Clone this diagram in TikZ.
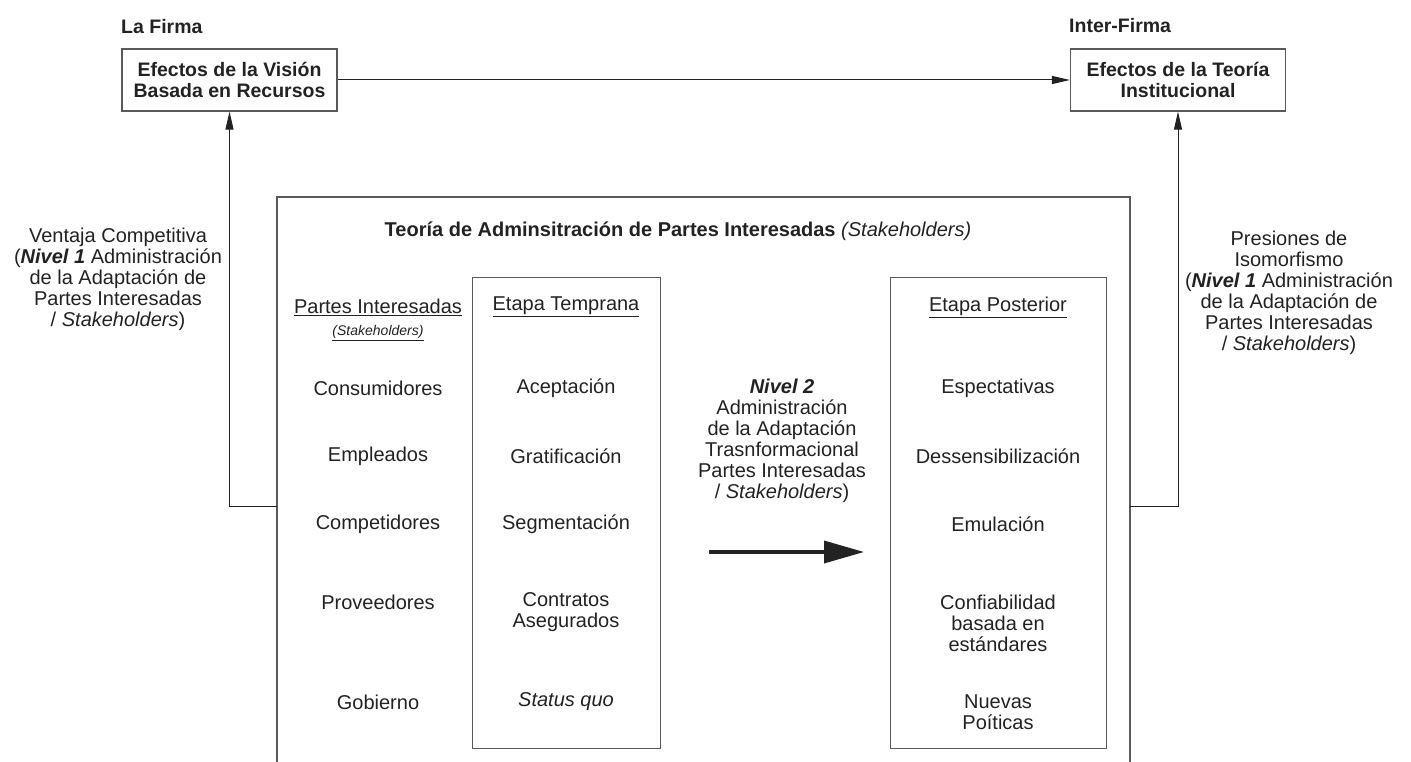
\documentclass[tikz,border=0pt]{standalone}
\usepackage{fontspec}
\setmainfont{Liberation Sans}
\usetikzlibrary{arrows.meta}
\definecolor{ink}{HTML}{222222}
\definecolor{edge}{HTML}{5A5A5A}
\begin{document}
\begin{tikzpicture}[x=1pt,y=-1pt,
  txt/.style={font=\fontsize{20}{21}\selectfont, text=ink, align=center, inner sep=0pt},
  bold/.style={txt, font=\fontsize{19.5}{21}\selectfont\bfseries},
  effbox/.style={bold, draw=edge, line width=1.2pt, minimum width=215pt, minimum height=62pt},
  stagebox/.style={draw=edge, line width=1.2pt, minimum width=#1, minimum height=471pt, anchor=north west, inner sep=0pt},
  frame/.style={draw=edge, line width=1.2pt},
  link/.style={draw=ink, line width=1pt, -{Triangle[length=18pt,width=8pt]}},
  bigarrow/.style={draw=ink, line width=3.5pt, -{Triangle[length=40pt,width=22pt]}},
]
\useasboundingbox (0,0) rectangle (1411,762);

% level labels
\node[bold, anchor=west] (firma) at (121,27) {La Firma};
\node[bold, anchor=west] (inter) at (1069,26) {Inter-Firma};

% effect boxes
\node[effbox] (rbv) at (229.5,80) {Efectos de la Visión\\Basada en Recursos};
\node[effbox] (inst) at (1178,80) {Efectos de la Teoría\\Institucional};

% stakeholder theory frame, open at the bottom
\draw[frame] (277,762) -- (277,197) -- (1130,197) -- (1130,762);
\coordinate (lj) at (277,506);
\coordinate (rj) at (1130,506);

% stage boxes
\node[stagebox=188pt] (early) at (472,277) {};
\node[stagebox=216pt] (late) at (890,277) {};

% connectors
\draw[link] (rbv.east) -- (inst.west);
\draw[link] (lj) -| (rbv.south);
\draw[link] (rj) -| (inst.south);

% side labels
\node[txt] (lv1) at (118,279) {Ventaja Competitiva\\(\textbf{\textit{Nivel 1}} Administración\\de la Adaptación de\\Partes Interesadas\\/ \textit{Stakeholders})};
\node[txt] (rv1) at (1289,293) {Presiones de\\Isomorfismo\\(\textbf{\textit{Nivel 1}} Administración\\de la Adaptación de\\Partes Interesadas\\/ \textit{Stakeholders})};

% frame title
\node[txt] (title) at (678,231) {\textbf{Teoría de Adminsitración de Partes Interesadas} \textit{(Stakeholders)}};

% stakeholders column
\node[txt] (ph) at (378,307) {\underline{Partes Interesadas}};
\node[txt, font=\fontsize{14}{15}\selectfont\itshape] (ps) at (378,333) {\underline{(Stakeholders)}};
\node[txt] (s1) at (378,388) {Consumidores};
\node[txt] (s2) at (378,456) {Empleados};
\node[txt] (s3) at (378,524) {Competidores};
\node[txt] (s4) at (378,602) {Proveedores};
\node[txt] (s5) at (378,702) {Gobierno};

% early stage column
\node[txt] (eh) at (566,307) {\underline{Etapa Temprana}};
\node[txt] (e1) at (566,388) {Aceptación};
\node[txt] (e2) at (566,456) {Gratificación};
\node[txt] (e3) at (566,524) {Segmentación};
\node[txt] (e4) at (566,612.5) {Contratos\\Asegurados};
\node[txt] (e5) at (566,702) {\textit{Status quo}};

% late stage column
\node[txt] (lh) at (998,307) {\underline{Etapa Posterior}};
\node[txt] (l1) at (998,388) {Espectativas};
\node[txt] (l2) at (998,456) {Dessensibilización};
\node[txt] (l3) at (998,524) {Emulación};
\node[txt] (l4) at (998,623) {Confiabilidad\\basada en\\estándares};
\node[txt] (l5) at (998,712.5) {Nuevas\\Poíticas};

% level 2 transition
\node[txt] (lv2) at (782,441) {\textbf{\textit{Nivel 2}}\\Administración\\de la Adaptación\\Trasnformacional\\Partes Interesadas\\/ \textit{Stakeholders})};
\coordinate (a1) at (709,552);
\coordinate (a2) at (864,552);
\draw[bigarrow] (a1) -- (a2);
\end{tikzpicture}
\end{document}
